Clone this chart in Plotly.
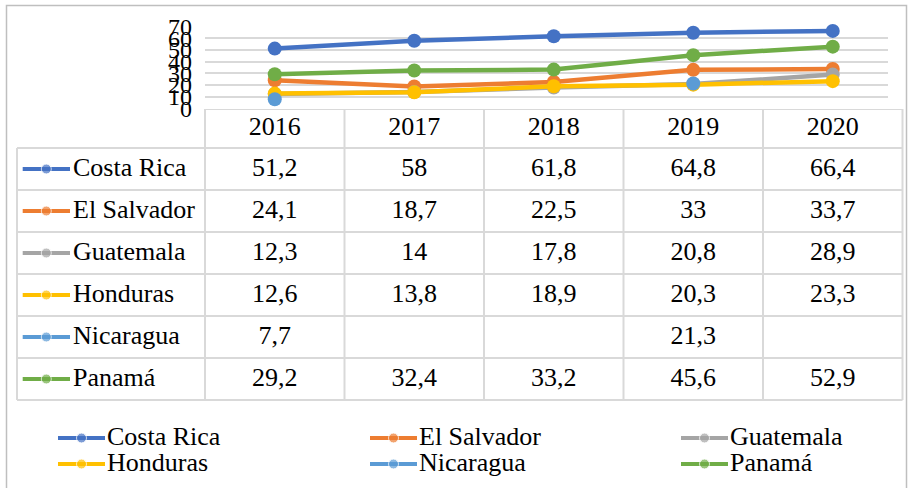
import plotly.graph_objects as go

# ---------------- data ----------------
years = ["2016", "2017", "2018", "2019", "2020"]
countries = ["Costa Rica", "El Salvador", "Guatemala", "Honduras", "Nicaragua", "Panamá"]
costa_rica = [51.2, 58, 61.8, 64.8, 66.4]
el_salvador = [24.1, 18.7, 22.5, 33, 33.7]
guatemala = [12.3, 14, 17.8, 20.8, 28.9]
honduras = [12.6, 13.8, 18.9, 20.3, 23.3]
nicaragua = [7.7, None, None, 21.3, None]
panama = [29.2, 32.4, 33.2, 45.6, 52.9]
y_ticks = [0, 10, 20, 30, 40, 50, 60, 70]

series = [costa_rica, el_salvador, guatemala, honduras, nicaragua, panama]
colors = ["#4472C4", "#ED7D31", "#A5A5A5", "#FFC000", "#5B9BD5", "#70AD47"]

# ---------------- geometry ----------------
W, H = 908, 488
FONT = "Liberation Serif"
X0, COL_W = 205.0, 139.5          # left edge of first data column, column width
ROW0, ROW_H = 148.0, 42.0          # top of first data row, row height
GRID = "#d9d9d9"


def ux(px):
    return (px - X0) / COL_W - 0.5


def uy(py):
    return (py - ROW0) / ROW_H - 0.5


def fmt(v):
    if v is None:
        return ""
    s = ("%g" % v)
    return s.replace(".", ",")


xi = list(range(len(years)))
fig = go.Figure()

# ---------------- line chart ----------------
for name, vals, col in zip(countries, series, colors):
    fig.add_trace(go.Scatter(
        x=xi, y=vals, name=name, mode="lines+markers",
        line=dict(color=col, width=4.5),
        marker=dict(color=col, size=14),
        connectgaps=False, showlegend=False, hoverinfo="skip",
        xaxis="x", yaxis="y", cliponaxis=False))

# ---------------- data table ----------------
n_rows = len(countries)
shapes = []
tbl_left = ux(17)
hdr_top = uy(109)
shapes.append(dict(type="line", xref="x2", yref="y2", x0=-0.5, x1=len(years) - 0.5,
                   y0=hdr_top, y1=hdr_top, line=dict(color=GRID, width=2)))
for r in range(n_rows + 1):
    shapes.append(dict(type="line", xref="x2", yref="y2", x0=tbl_left, x1=len(years) - 0.5,
                       y0=r - 0.5, y1=r - 0.5, line=dict(color=GRID, width=2)))
shapes.append(dict(type="line", xref="x2", yref="y2", x0=tbl_left, x1=tbl_left,
                   y0=-0.5, y1=n_rows - 0.5, line=dict(color=GRID, width=2)))
for c in range(len(years) + 1):
    shapes.append(dict(type="line", xref="x2", yref="y2", x0=c - 0.5, x1=c - 0.5,
                       y0=hdr_top, y1=n_rows - 0.5, line=dict(color=GRID, width=2)))

# header
fig.add_trace(go.Scatter(
    x=xi, y=[(hdr_top + -0.5) / 2] * len(years), text=years, mode="text",
    textfont=dict(family=FONT, size=26, color="black"),
    showlegend=False, hoverinfo="skip", xaxis="x2", yaxis="y2"))

# values + keys
for r, (name, vals, col) in enumerate(zip(countries, series, colors)):
    fig.add_trace(go.Scatter(
        x=xi, y=[r] * len(years), text=[fmt(v) for v in vals], mode="text",
        textfont=dict(family=FONT, size=26, color="black"),
        showlegend=False, hoverinfo="skip", xaxis="x2", yaxis="y2"))
    fig.add_trace(go.Scatter(
        x=[ux(22.7), ux(46.3), ux(70)], y=[r] * 3, mode="lines+markers",
        line=dict(color=col, width=4), marker=dict(color=col, size=[0, 10, 0]),
        showlegend=False, hoverinfo="skip", xaxis="x2", yaxis="y2"))

# row labels
fig.add_trace(go.Scatter(
    x=[ux(73)] * n_rows, y=list(range(n_rows)), text=countries, mode="text",
    textposition="middle right",
    textfont=dict(family=FONT, size=26, color="black"),
    showlegend=False, hoverinfo="skip", xaxis="x2", yaxis="y2"))

# ---------------- legend (bottom) ----------------
leg_cols = [58, 370, 681]
leg_rows = [438, 464]
for k, (name, col) in enumerate(zip(countries, colors)):
    kx = leg_cols[k % 3]
    ky = uy(leg_rows[k // 3])
    fig.add_trace(go.Scatter(
        x=[ux(kx), ux(kx + 23.5), ux(kx + 47)], y=[ky] * 3, mode="lines+markers",
        line=dict(color=col, width=4), marker=dict(color=col, size=[0, 10, 0]),
        showlegend=False, hoverinfo="skip", xaxis="x2", yaxis="y2"))
    fig.add_trace(go.Scatter(
        x=[ux(kx + 49)], y=[ky], text=[name], mode="text", textposition="middle right",
        textfont=dict(family=FONT, size=26, color="black"),
        showlegend=False, hoverinfo="skip", xaxis="x2", yaxis="y2"))

# outer frame
shapes.append(dict(type="rect", xref="paper", yref="paper",
                   x0=6.5 / W, x1=906.5 / W, y0=-0.05, y1=1 - 5.5 / H,
                   line=dict(color="#bfbfbf", width=1.5), fillcolor="rgba(0,0,0,0)"))

fig.update_layout(
    width=W, height=H, margin=dict(l=0, r=0, t=0, b=0, autoexpand=False),
    paper_bgcolor="white", plot_bgcolor="rgba(0,0,0,0)",
    font=dict(family=FONT, color="black"),
    showlegend=False, shapes=shapes,
    xaxis=dict(domain=[X0 / W, 888 / W], range=[-0.5, ux(888)], showticklabels=False,
               showgrid=False, zeroline=False, showline=False, fixedrange=True),
    yaxis=dict(domain=[1 - 108.3 / H, 1 - 26.7 / H], range=[0, 70], tickvals=y_ticks,
               ticktext=[str(t) for t in y_ticks],
               showgrid=True, gridcolor=GRID, gridwidth=1.5, zeroline=False, showline=False,
               tickfont=dict(family=FONT, size=24, color="black"), ticklabelstandoff=12,
               fixedrange=True),
    xaxis2=dict(domain=[0, 1], range=[ux(0), ux(W)], visible=False, fixedrange=True),
    yaxis2=dict(domain=[0, 1 - 109 / H], range=[uy(H), uy(109)], visible=False,
                fixedrange=True),
)

fig.write_html("out.html", config={"displayModeBar": False},
               post_script="document.body.style.margin='0';document.body.style.overflow='hidden';")
